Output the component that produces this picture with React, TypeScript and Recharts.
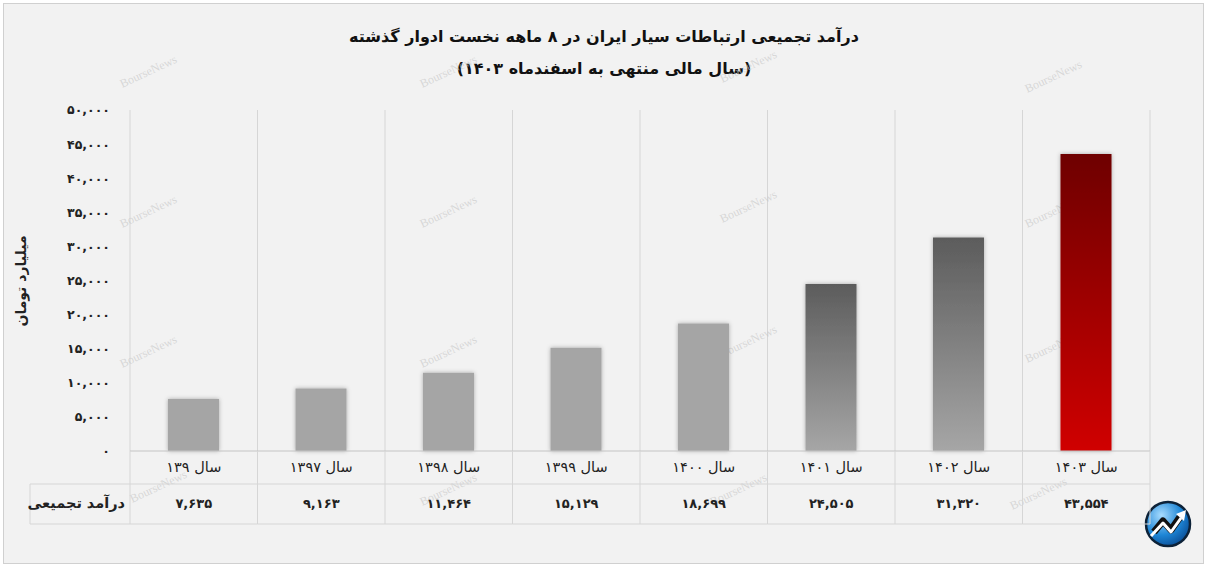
import React from 'react';
import { BarChart, Bar, XAxis, YAxis, CartesianGrid, Cell, Customized } from 'recharts';

const categories = ['سال ۱۳۹', 'سال ۱۳۹۷', 'سال ۱۳۹۸', 'سال ۱۳۹۹', 'سال ۱۴۰۰', 'سال ۱۴۰۱', 'سال ۱۴۰۲', 'سال ۱۴۰۳'];
const revenue = [7635, 9163, 11464, 15129, 18699, 24505, 31320, 43554];
const yTicks = [0, 5000, 10000, 15000, 20000, 25000, 30000, 35000, 40000, 45000, 50000];
const rowLabel = 'درآمد تجمیعی';
const titleLine1 = 'درآمد تجمیعی ارتباطات سیار ایران در ۸ ماهه نخست ادوار گذشته';
const titleLine2 = '(سال مالی منتهی به اسفندماه ۱۴۰۳)';
const yLabel = 'میلیارد تومان';

const barFills = ['#a5a5a5', '#a5a5a5', '#a5a5a5', '#a5a5a5', '#a5a5a5', 'url(#grayGrad)', 'url(#grayGrad)', 'url(#redGrad)'];

const W = 1207, H = 567;
const M = { top: 110, right: 57, bottom: 43, left: 60 };
const Y_W = 70;
const X_H = 73;
const BAND = (W - M.left - M.right - Y_W) / categories.length;
const LINE = '#d6d6d6';
const FONT = '"DejaVu Sans", "Noto Sans", sans-serif';

const fa = (n: number) => n.toLocaleString('en-US').replace(/\d/g, d => '۰۱۲۳۴۵۶۷۸۹'[+d]);

const data = categories.map((c, i) => ({ name: c, value: revenue[i] }));

function TableTick(props: any) {
  const { x, y, payload } = props;
  const i = payload.index;
  const half = BAND / 2;
  return (
    <g>
      <line x1={x - half} y1={y} x2={x - half} y2={y + 73} stroke={LINE} />
      {i === categories.length - 1 && <line x1={x + half} y1={y} x2={x + half} y2={y + 73} stroke={LINE} />}
      <line x1={x - half} y1={y + 33} x2={x + half} y2={y + 33} stroke={LINE} />
      <line x1={x - half} y1={y + 73} x2={x + half} y2={y + 73} stroke={LINE} />
      <text x={x} y={y + 21} textAnchor="middle" direction="rtl" fontSize={14.5} fontFamily={FONT} fill="#222">{categories[i]}</text>
      <text x={x} y={y + 57} textAnchor="middle" fontSize={13} fontWeight="bold" fontFamily={FONT} fill="#222">{fa(revenue[i])}</text>
      {i === 0 && (
        <g>
          <line x1={30} y1={y + 33} x2={x - half} y2={y + 33} stroke={LINE} />
          <line x1={30} y1={y + 73} x2={x - half} y2={y + 73} stroke={LINE} />
          <line x1={30} y1={y + 33} x2={30} y2={y + 73} stroke={LINE} />
          <text x={x - half - 5} y={y + 57} textAnchor="end" fontSize={14.5} fontWeight="bold" fontFamily={FONT} fill="#222">{rowLabel}</text>
        </g>
      )}
    </g>
  );
}

const marks = [
  [150, 75], [450, 75], [750, 70], [1055, 80],
  [150, 215], [450, 215], [750, 210], [1055, 215],
  [150, 355], [450, 355], [750, 345], [1055, 350],
  [160, 490], [450, 493], [740, 493], [1040, 497],
];

function Decor() {
  return (
    <g>
      <text x={604} y={42} textAnchor="middle" direction="rtl" fontSize={16} fontWeight="bold" fontFamily={FONT} fill="#111">{titleLine1}</text>
      <text x={604} y={74} textAnchor="middle" direction="rtl" fontSize={16} fontWeight="bold" fontFamily={FONT} fill="#111">{titleLine2}</text>
      <text x={0} y={0} transform="translate(26,281) rotate(-90)" textAnchor="middle" fontSize={14} fontWeight="bold" fontFamily={FONT} fill="#222">{yLabel}</text>
      {marks.map(([mx, my], k) => (
        <text key={k} x={0} y={0} transform={`translate(${mx},${my}) rotate(-25)`} textAnchor="middle"
          fontSize={12} fontFamily='"Liberation Serif", serif' fill="#c8c8c8" fillOpacity={0.65}>BourseNews</text>
      ))}
      <g transform="translate(1168,524)">
        <circle r={22} fill="url(#logoGrad)" stroke="#0d2238" strokeWidth={2.5} />
        <path d="M-14,8 L-5,-3 L3,6 L12,-7" fill="none" stroke="#111" strokeWidth={7} strokeLinejoin="round" />
        <path d="M-17,12 L-5,-1 L3,8 L13,-6" fill="none" stroke="#fff" strokeWidth={3} strokeLinejoin="round" />
        <path d="M8,-10 L18,-14 L16,-3 Z" fill="#fff" />
      </g>
    </g>
  );
}

export default function App() {
  return (
    <div style={{ position: 'absolute', left: 0, top: 0, width: W, height: H, background: '#fff' }}>
      <div style={{ position: 'absolute', left: 3, top: 3, width: W - 8, height: H - 8, background: '#f2f2f2', border: '1px solid #d0d0d0' }} />
      <div style={{ position: 'absolute', left: 0, top: 0 }}>
        <BarChart width={W} height={H} data={data} margin={M} barSize={51}>
          <defs>
            <linearGradient id="grayGrad" x1="0" y1="0" x2="0" y2="1">
              <stop offset="0%" stopColor="#5c5c5c" />
              <stop offset="100%" stopColor="#a6a6a6" />
            </linearGradient>
            <linearGradient id="redGrad" x1="0" y1="0" x2="0" y2="1">
              <stop offset="0%" stopColor="#6e0000" />
              <stop offset="100%" stopColor="#d00000" />
            </linearGradient>
            <radialGradient id="logoGrad" cx="35%" cy="30%" r="75%">
              <stop offset="0%" stopColor="#a8dcff" />
              <stop offset="60%" stopColor="#1e86d6" />
              <stop offset="100%" stopColor="#0a4f98" />
            </radialGradient>
            <filter id="barShadow" x="-30%" y="-10%" width="160%" height="120%">
              <feDropShadow dx="0" dy="0" stdDeviation="2" floodColor="#000" floodOpacity="0.3" />
            </filter>
          </defs>
          <CartesianGrid
            horizontal={false}
            stroke={LINE}
            strokeDasharray=""
            verticalCoordinatesGenerator={({ offset }: any) =>
              Array.from({ length: categories.length + 1 }, (_, i) => offset.left + (i * offset.width) / categories.length)}
          />
          <XAxis dataKey="name" height={X_H} interval={0} tickLine={false} tickSize={0} tickMargin={0}
            axisLine={{ stroke: '#c4c4c4' }} tick={<TableTick />} />
          <YAxis width={Y_W} domain={[0, 50000]} ticks={yTicks} tickFormatter={fa} axisLine={false} tickLine={false}
            tickSize={0} tickMargin={20} tick={{ fontSize: 12.5, fontWeight: 'bold', fill: '#222', fontFamily: FONT }} />
          <Bar dataKey="value" isAnimationActive={false}>
            {data.map((d, i) => <Cell key={d.name} fill={barFills[i]} filter="url(#barShadow)" />)}
          </Bar>
          <Customized component={Decor} />
        </BarChart>
      </div>
    </div>
  );
}
